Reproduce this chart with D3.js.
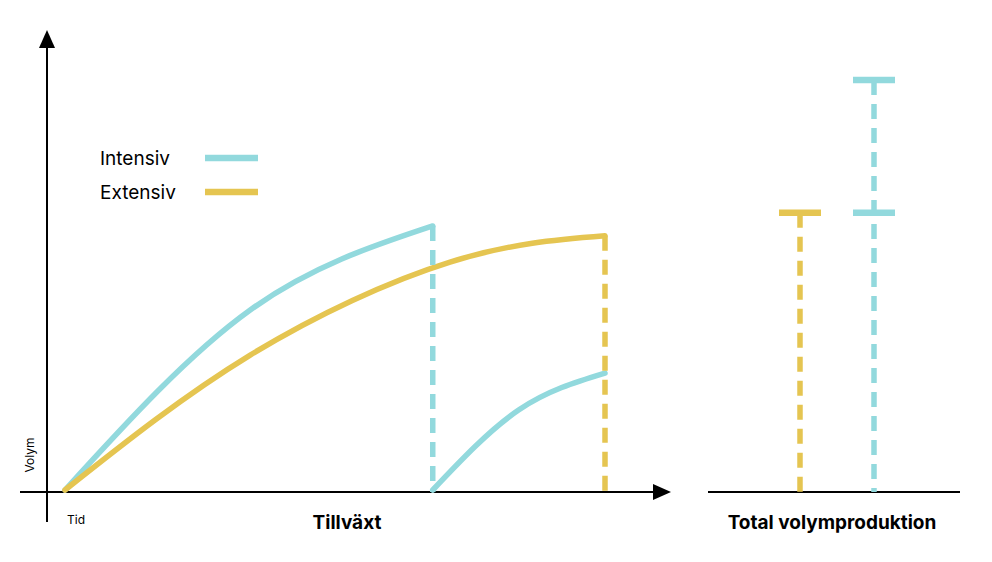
<!DOCTYPE html>
<html><head><meta charset="utf-8">
<script src="https://cdn.jsdelivr.net/npm/d3@7"></script>
<style>body{margin:0;background:#fff}text{font-family:Inter,"Open Sans",sans-serif}</style>
</head><body><svg id="c" width="992" height="562"></svg>
<script>
const intensiv = [[0,0],[34.3,43.9],[68.1,64.4]];
const extensiv = [[0,0],[34.3,32.9],[71.3,55.6],[100,62]];
const intensiv2 = [[68.1,0],[84,19.5],[100,28.5]];
const totals = [{name:"Extensiv",levels:[67.6]},{name:"Intensiv",levels:[67.6,100]}];
const legend = ["Intensiv","Extensiv"];
const colors = {Intensiv:"#92d9dd",Extensiv:"#e5c551"};

const svg = d3.select("#c");
const x = d3.scaleLinear().domain([0,100]).range([65,605]);
const y = d3.scaleLinear().domain([0,100]).range([490,80]);
const xr = d3.scalePoint().domain(totals.map(d=>d.name)).range([800,874]);
const W = 5.5;

svg.append("line").attr("x1",47).attr("x2",47).attr("y1",522).attr("y2",45).attr("stroke","#000").attr("stroke-width",2);
svg.append("path").attr("d","M47,30 L39,48 L55,48 Z").attr("fill","#000");
svg.append("line").attr("x1",20).attr("x2",655).attr("y1",492).attr("y2",492).attr("stroke","#000").attr("stroke-width",2);
svg.append("path").attr("d","M671,492 L653,484 L653,500 Z").attr("fill","#000");
svg.append("line").attr("x1",708).attr("x2",960).attr("y1",492).attr("y2",492).attr("stroke","#000").attr("stroke-width",2);

const line = d3.line().x(d=>x(d[0])).y(d=>y(d[1])).curve(d3.curveNatural);
[[intensiv,"Intensiv"],[extensiv,"Extensiv"],[intensiv2,"Intensiv"]].forEach(([d,k])=>{
  svg.append("path").attr("d",line(d)).attr("fill","none").attr("stroke",colors[k]).attr("stroke-width",W).attr("stroke-linecap","round");
});
const dash = (x0,y0,y1,c)=>svg.append("line").attr("x1",x0).attr("x2",x0).attr("y1",y0).attr("y2",y1)
  .attr("stroke",c).attr("stroke-width",W).attr("stroke-dasharray","15,9");
dash(x(intensiv[intensiv.length-1][0]),y(intensiv[intensiv.length-1][1]),y(0)+2,colors.Intensiv);
dash(x(100),y(extensiv[extensiv.length-1][1]),y(0)+2,colors.Extensiv);

totals.forEach(t=>{
  const cx = xr(t.name), top = d3.max(t.levels);
  dash(cx,y(top),y(0)+2,colors[t.name]);
  t.levels.forEach(l=>svg.append("line").attr("x1",cx-21).attr("x2",cx+21).attr("y1",y(l)).attr("y2",y(l))
    .attr("stroke",colors[t.name]).attr("stroke-width",W+1));
});

legend.forEach((k,i)=>{
  const ly = 158+i*34;
  svg.append("text").attr("x",100).attr("y",ly+7).attr("font-size",19).text(k);
  svg.append("line").attr("x1",205).attr("x2",258).attr("y1",ly).attr("y2",ly).attr("stroke",colors[k]).attr("stroke-width",W+1);
});

svg.append("text").attr("transform","translate(34,455) rotate(-90)").attr("text-anchor","middle").attr("font-size",12).text("Volym");
svg.append("text").attr("x",67).attr("y",524).attr("font-size",12).text("Tid");
svg.append("text").attr("x",347).attr("y",529).attr("text-anchor","middle").attr("font-size",19).attr("font-weight",700).text("Tillväxt");
svg.append("text").attr("x",832).attr("y",529).attr("text-anchor","middle").attr("font-size",19).attr("font-weight",700).text("Total volymproduktion");
</script></body></html>
